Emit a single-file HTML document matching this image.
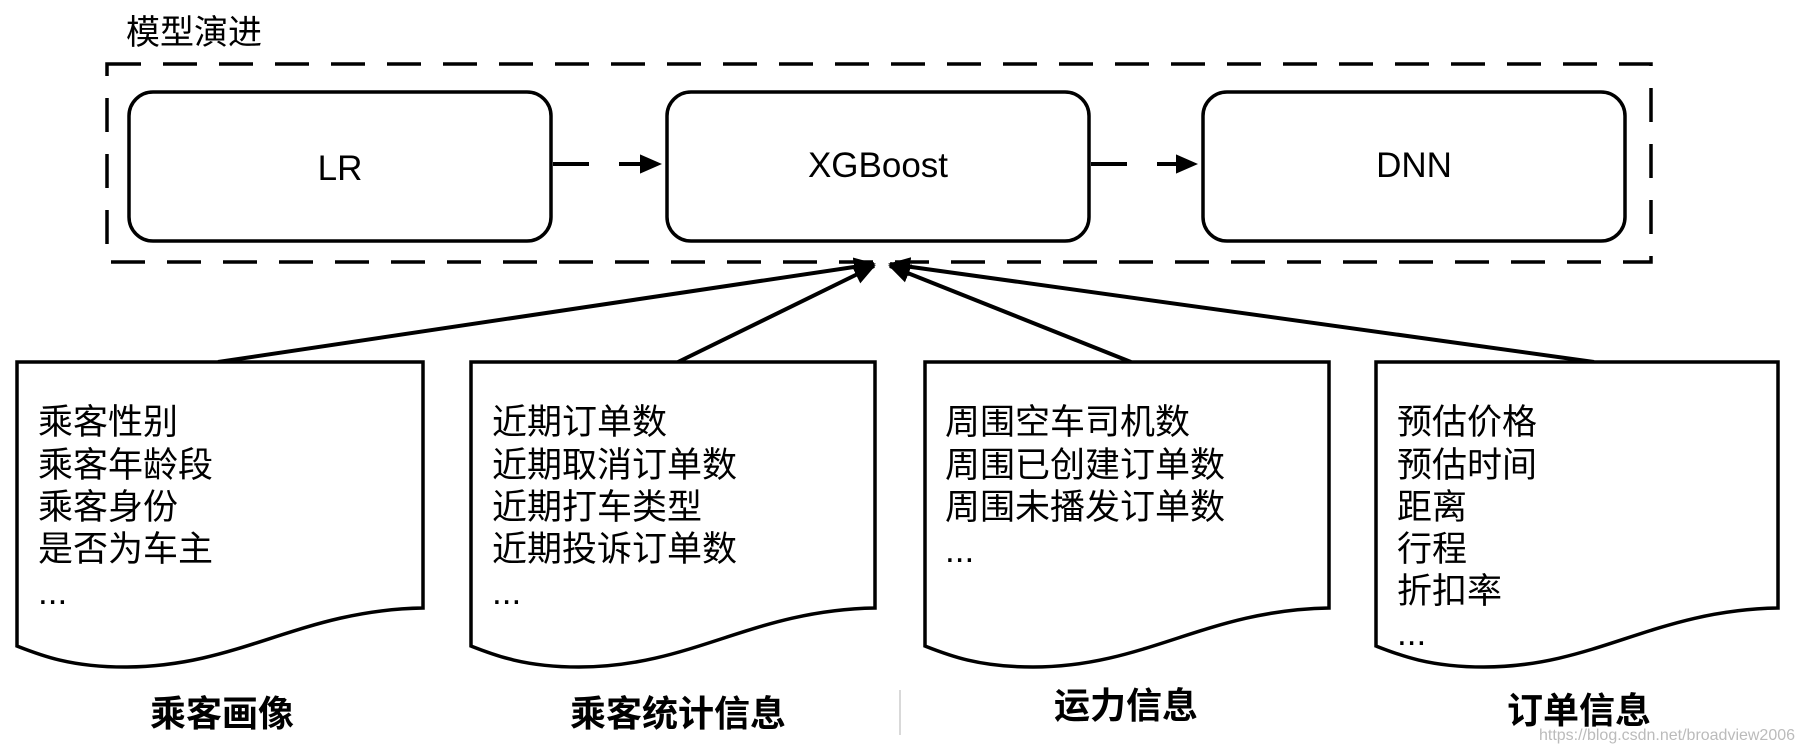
<!DOCTYPE html>
<html><head><meta charset="utf-8"><style>
html,body{margin:0;padding:0;background:#fff;}
svg{display:block;}
text{font-family:"Liberation Sans","Noto Sans CJK SC",sans-serif;fill:#000;}
</style></head><body>
<svg width="1801" height="751" viewBox="0 0 1801 751" xmlns="http://www.w3.org/2000/svg">
<defs>
<marker id="ah" markerWidth="6" markerHeight="6" refX="5" refY="3" orient="auto" markerUnits="strokeWidth">
<path d="M0,0.6 L5.5,3 L0,5.4 Z" fill="#000"/>
</marker>
</defs>
<text x="126" y="44" font-size="34">模型演进</text>
<rect x="107" y="64" width="1544" height="198" fill="none" stroke="#000" stroke-width="3.5" stroke-dasharray="34,22"/>
<rect x="129" y="92" width="422" height="149" rx="24" fill="none" stroke="#000" stroke-width="3.5"/>
<rect x="667" y="92" width="422" height="149" rx="24" fill="none" stroke="#000" stroke-width="3.5"/>
<rect x="1203" y="92" width="422" height="149" rx="24" fill="none" stroke="#000" stroke-width="3.5"/>
<text x="340" y="180" font-size="35" text-anchor="middle">LR</text>
<text x="878" y="177" font-size="35" text-anchor="middle">XGBoost</text>
<text x="1414" y="177" font-size="35" text-anchor="middle">DNN</text>
<line x1="553" y1="164" x2="660" y2="164" stroke="#000" stroke-width="4" stroke-dasharray="36,30" marker-end="url(#ah)"/>
<line x1="1091" y1="164" x2="1196" y2="164" stroke="#000" stroke-width="4" stroke-dasharray="36,30" marker-end="url(#ah)"/>
<g stroke="#000" stroke-width="4" fill="none">
<line x1="218" y1="362" x2="874" y2="264" marker-end="url(#ah)"/>
<line x1="678" y1="362" x2="874" y2="266" marker-end="url(#ah)"/>
<line x1="1131" y1="362" x2="890" y2="266" marker-end="url(#ah)"/>
<line x1="1594" y1="362" x2="890" y2="264" marker-end="url(#ah)"/>
</g>
<g fill="#fff" stroke="#000" stroke-width="3.5">
<path d="M17,362 H423 V608 C300,610 240,667 125,667 C70,667 40,655 17,646 Z"/>
<path d="M471,362 H875 V608 C752,610 692,667 579,667 C524,667 494,655 471,646 Z"/>
<path d="M925,362 H1329 V608 C1206,610 1146,667 1033,667 C978,667 948,655 925,646 Z"/>
<path d="M1376,362 H1778 V608 C1655,610 1595,667 1484,667 C1429,667 1399,655 1376,646 Z"/>
</g>
<g font-size="35">
<text x="38" y="434">乘客性别</text>
<text x="38" y="477">乘客年龄段</text>
<text x="38" y="519">乘客身份</text>
<text x="38" y="561">是否为车主</text>
<text x="38" y="604">...</text>
<text x="492" y="434">近期订单数</text>
<text x="492" y="477">近期取消订单数</text>
<text x="492" y="519">近期打车类型</text>
<text x="492" y="561">近期投诉订单数</text>
<text x="492" y="604">...</text>
<text x="945" y="434">周围空车司机数</text>
<text x="945" y="477">周围已创建订单数</text>
<text x="945" y="519">周围未播发订单数</text>
<text x="945" y="562">...</text>
<text x="1397" y="434">预估价格</text>
<text x="1397" y="477">预估时间</text>
<text x="1397" y="519">距离</text>
<text x="1397" y="561">行程</text>
<text x="1397" y="603">折扣率</text>
<text x="1397" y="645">...</text>
</g>
<g font-size="36" font-weight="bold" text-anchor="middle">
<text x="222" y="726">乘客画像</text>
<text x="678" y="726">乘客统计信息</text>
<text x="1126" y="718">运力信息</text>
<text x="1579" y="723">订单信息</text>
</g>
<line x1="900" y1="690" x2="900" y2="735" stroke="#ccc" stroke-width="1.5"/>
<text x="1795" y="740" font-size="16" text-anchor="end" style="fill:#bbb" textLength="256" lengthAdjust="spacingAndGlyphs">https://blog.csdn.net/broadview2006</text>
</svg>
</body></html>
